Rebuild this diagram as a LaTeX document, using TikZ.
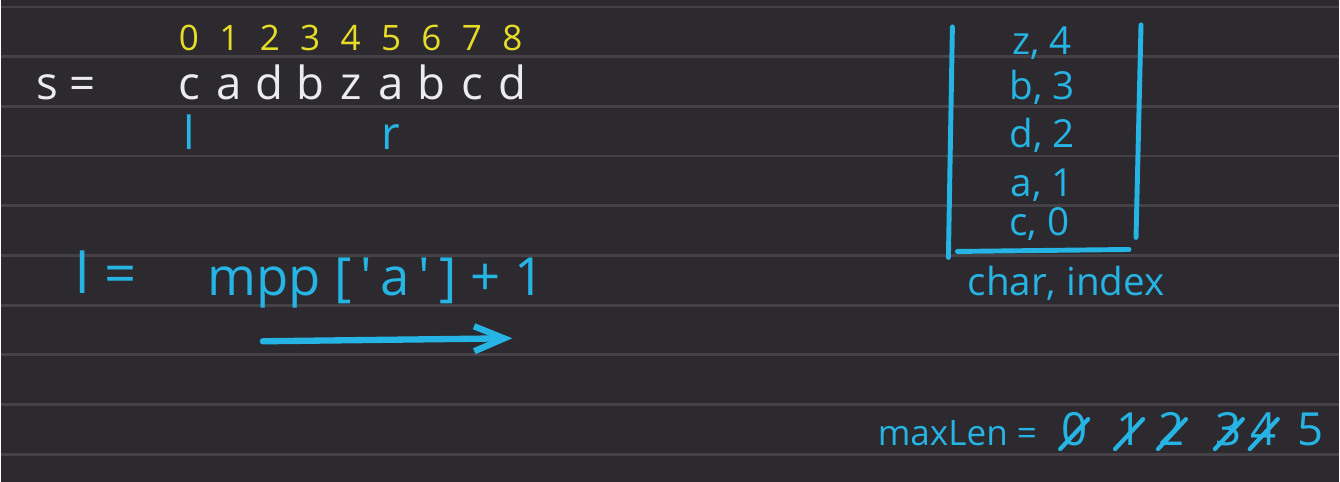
\documentclass[tikz,border=0pt]{standalone}
\usepackage{fontspec}
\setmainfont{Open Sans}
\usetikzlibrary{arrows.meta, positioning}
\definecolor{board}{RGB}{44,42,46}
\definecolor{ruling}{RGB}{68,66,70}
\definecolor{ink}{RGB}{236,236,236}
\definecolor{pen}{RGB}{38,180,228}
\definecolor{hl}{RGB}{230,220,40}

\begin{document}
\begin{tikzpicture}[x=0.01cm, y=-0.01cm,
        chr/.style={text=ink, font=\fontsize{13}{15}\selectfont, inner sep=0pt, anchor=base},
        idx/.style={text=hl, font=\fontsize{10}{12}\selectfont, inner sep=0pt, anchor=base},
        ptr/.style={text=pen, font=\fontsize{13}{15}\selectfont, inner sep=0pt, anchor=base},
        entry/.style={text=pen, font=\fontsize{11}{13}\selectfont, inner sep=0pt, anchor=base},
        bar/.style={draw=pen, line width=1.4pt, line cap=round},
        strike/.style={draw=pen, line width=1.2pt, line cap=round},
        >={Straight Barb[length=3mm,width=2.5mm]}
    ]
        % board and ruled lines
        \fill[board] (0,0) rectangle (1340,483);
        \foreach \k in {0,...,9}
            \draw[ruling, line width=0.8pt] (0,{7+49.8*\k}) -- (1340,{7+49.8*\k});
        % string with its indices
        \node[chr] (seq) at (65,100) {s =};
        \foreach \c [count=\i from 0] in {c,a,d,b,z,a,b,c,d} {
            \node[chr] (c\i) at ({188+40.5*\i},100) {\c};
            \node[idx] (i\i) at ({188+40.5*\i},51) {\i};
        }
        % window pointers
        \node[ptr] (lp) at (c0 |- 0,150) {l};
        \node[ptr] (rp) at (c5 |- 0,150) {r};
        % update rule
        \node[ptr, font=\fontsize{16}{18}\selectfont] (lhs) at (105,294) {l =};
        \node[ptr, font=\fontsize{15}{17}\selectfont] (expr) at (375,296) {mpp [\,\textquotesingle\,a\,\textquotesingle\,] + 1};
        \coordinate (as) at (262,342);
        \coordinate (ae) at (512,339);
        \draw[bar, line width=1.8pt, ->] (as) -- (ae);
        % map contents
        \node[entry] (e4) at (1043,55) {z,~4};
        \node[entry] (e3) at (1043,100) {b,~3};
        \node[entry] (e2) at (1043,148) {d,~2};
        \node[entry] (e1) at (1043,197) {a,~1};
        \node[entry] (e0) at (1040,236) {c,~0};
        \draw[bar] (953,27) -- (949,258);
        \draw[bar] (1142,25) -- (1137,238);
        \draw[bar] (958,252) -- (1130,250);
        \node[entry] (key) at (1067,296) {char, index};
        % running maximum
        \node[entry, font=\fontsize{10}{12}\selectfont] (ml) at (958,446) {maxLen =};
        \foreach \d/\x in {0/1075,1/1130,2/1173,3/1230,4/1265} {
            \node[entry, font=\fontsize{13}{15}\selectfont] (m\d) at (\x,446) {\d};
            \draw[strike] ([shift={(-14,4)}]m\d.base) -- ([shift={(14,-26)}]m\d.base);
        }
        \node[entry, font=\fontsize{13}{15}\selectfont] (m5) at (1312,446) {5};
    \end{tikzpicture}
\end{document}
